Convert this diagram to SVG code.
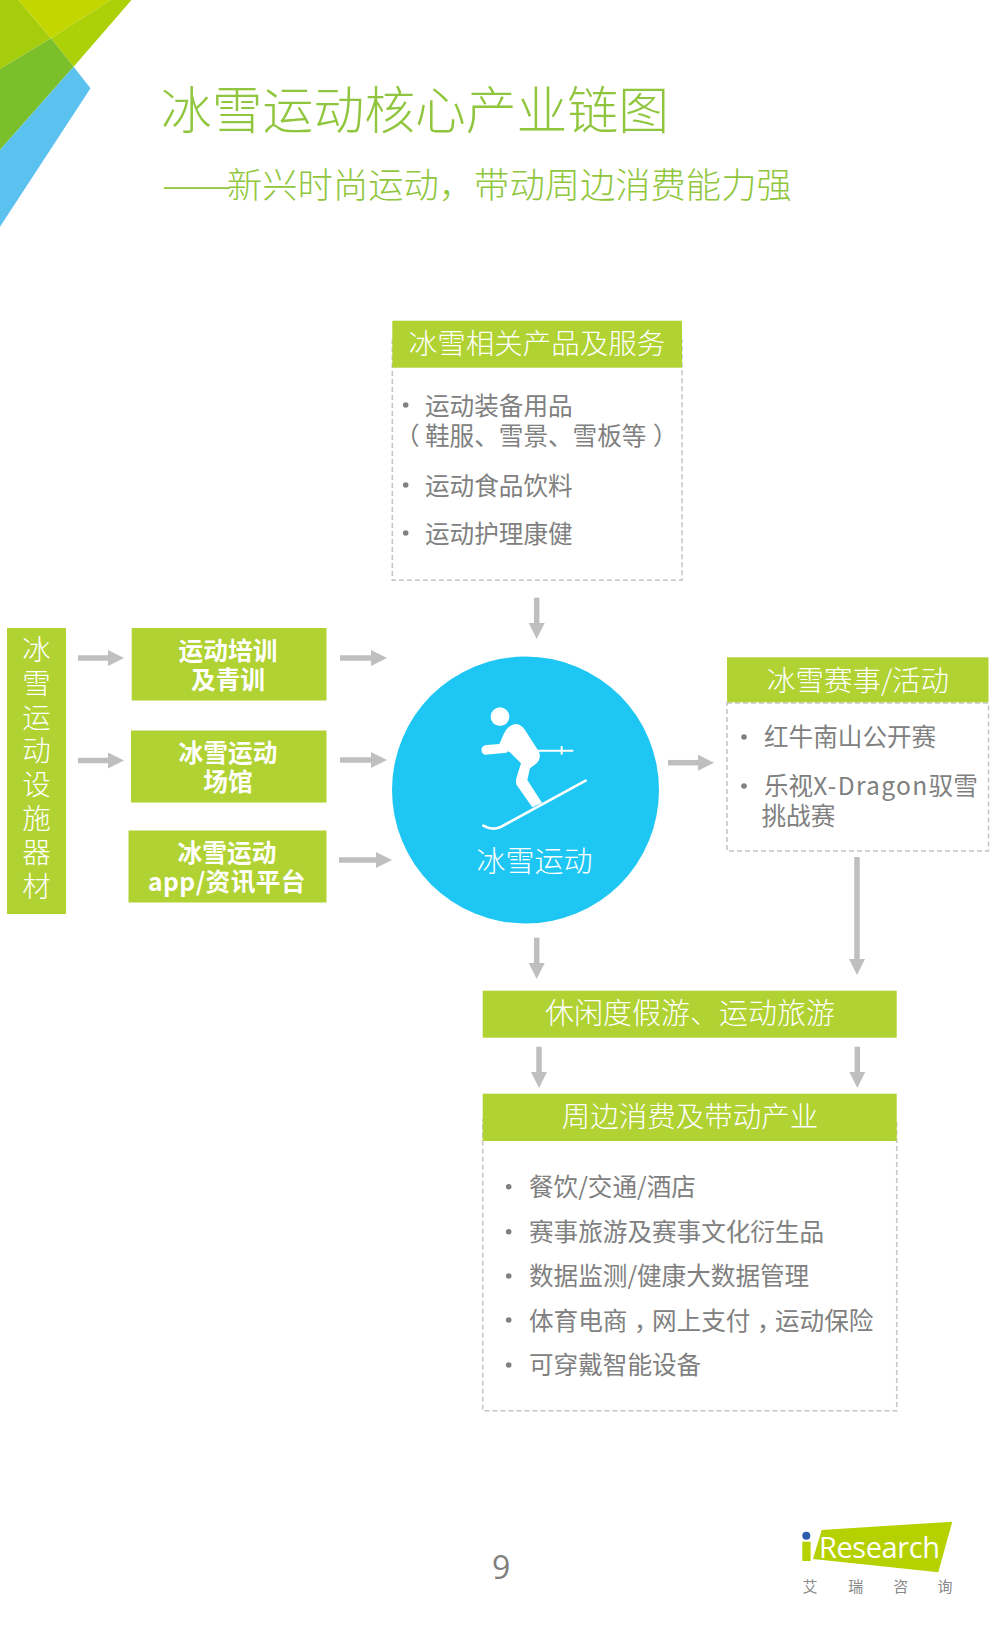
<svg xmlns="http://www.w3.org/2000/svg" width="1000" height="1640" viewBox="0 0 1000 1640">
<style>
text{font-family:"Noto Sans CJK SC","Noto Sans",sans-serif}
.hd{fill:#b0d232}
.dash{fill:#fff;stroke:#c4c4c4;stroke-width:1.5;stroke-dasharray:5 3}
.ht{fill:#fff;font-size:28.5px;font-weight:300;text-anchor:middle}
.bt{fill:#fff;font-size:24.7px;font-weight:700;text-anchor:middle}
.li{fill:#808080;font-size:24.6px;font-weight:400}
.bu{fill:#808080}
.conn{stroke:#bfbfbf;stroke-width:5.5;fill:none;marker-end:url(#arr)}
.title{fill:#8fc63d;font-weight:300}
.tc{font-family:"Noto Sans CJK TC",sans-serif}
</style>
<defs>
<marker id="arr" markerUnits="userSpaceOnUse" markerWidth="17" markerHeight="17" refX="0" refY="8" orient="auto"><path d="M0 0L16 8L0 16Z" fill="#bfbfbf"/></marker>
</defs>
<rect width="1000" height="1640" fill="#fff"/>
<g id="corner">
<path d="M0 0H18.4L51 38.3L0 69Z" fill="#a5cd0c"/>
<path d="M18.4 0H110.5L51 38.3Z" fill="#c3d600"/>
<path d="M110.5 0H131.5L73.6 66.7L51 38.3Z" fill="#acd108"/>
<path d="M51 38.3L73.6 66.7L0 150V69Z" fill="#7bbf2a"/>
<path d="M73.6 66.7L90.5 88.3L0 226.7V150Z" fill="#5bc2f0"/>
</g>
<g id="title">
<text class="title" x="161" y="129" font-size="50.8">冰雪运动核心产业链图</text>
<text class="title" x="162" y="198" font-size="35.3"><tspan font-size="42" dy="2" letter-spacing="1.5">——</tspan><tspan x="227" y="198">新兴时尚运动，带动周边消费能力强</tspan></text>
</g>
<g id="connectors">
<path class="conn" d="M536.7 597.7V623"/>
<path class="conn" d="M78 658H108"/>
<path class="conn" d="M78 760.5H108"/>
<path class="conn" d="M340 658H371"/>
<path class="conn" d="M340 760H371"/>
<path class="conn" d="M339 860H376"/>
<path class="conn" d="M668 762.7H698"/>
<path class="conn" d="M857 857V959"/>
<path class="conn" d="M536.7 937.7V963"/>
<path class="conn" d="M539 1046.7V1072"/>
<path class="conn" d="M857.3 1046.7V1072"/>
</g>
<g id="products">
<rect class="dash" x="392.3" y="340" width="289.7" height="240.3"/>
<rect class="hd" x="392.3" y="320.7" width="289.7" height="47"/>
<text class="ht" x="537" y="354">冰雪相关产品及服务</text>
<circle class="bu" cx="405.7" cy="405" r="2.8"/><text class="li" x="425" y="415">运动装备用品</text>
<text class="li" x="395" y="445">（<tspan x="425">鞋服、雪景、雪板等</tspan><tspan x="653">）</tspan></text>
<circle class="bu" cx="405.7" cy="485" r="2.8"/><text class="li" x="425" y="495">运动食品饮料</text>
<circle class="bu" cx="405.7" cy="533" r="2.8"/><text class="li" x="425" y="543">运动护理康健</text>
</g>
<g id="equipment">
<rect class="hd" x="7" y="628" width="59" height="286"/>
<text x="36.5" y="635" fill="#fff" font-size="28.5" font-weight="300" style="writing-mode:vertical-rl;letter-spacing:5.3px">冰雪运动设施器材</text>
</g>
<g id="training">
<rect class="hd" x="131.7" y="628" width="194.8" height="72.5"/>
<text class="bt" x="228" y="660">运动培训</text><text class="bt" x="228" y="689">及青训</text>
</g>
<g id="venue">
<rect class="hd" x="131" y="730.5" width="195.5" height="72"/>
<text class="bt" x="228" y="761.5">冰雪运动</text><text class="bt" x="228" y="791">场馆</text>
</g>
<g id="platform">
<rect class="hd" x="128.5" y="830.5" width="198" height="72"/>
<text class="bt" x="227" y="861.5">冰雪运动</text><text class="bt" x="227" y="891" letter-spacing=".4">app/资讯平台</text>
</g>
<g id="core">
<circle cx="525.5" cy="790" r="133.5" fill="#1ec6f4"/>
<g transform="translate(440 680) scale(.3333)" fill="#fff">
<circle cx="180" cy="110" r="28"/>
<path d="M205 209H400V215H205Z"/>
<path d="M362 198H368V224H362Z"/>
<path d="M190 165Q205 132 230 132Q245 135 255 150L297 215Q305 235 290 250L270 265L262 300L306 368L277 382L230 315Q225 305 232 285L243 250L205 212L200 218L135 224Q122 220 125 205Q130 195 140 195L178 192Z"/>
<path d="M130 437Q155 452 180 442L437 302" fill="none" stroke="#fff" stroke-width="8" stroke-linecap="round"/>
</g>
<text class="ht" x="534.5" y="872" style="font-size:29px">冰雪运动</text>
</g>
<g id="events">
<rect class="dash" x="727" y="703" width="261.5" height="148"/>
<rect class="hd" x="727" y="657.3" width="261.5" height="45"/>
<text class="ht" x="858" y="691">冰雪赛事/活动</text>
<circle class="bu" cx="744" cy="737" r="2.8"/><text class="li" x="764" y="746">红牛南山公开赛</text>
<circle class="bu" cx="744" cy="786" r="2.8"/><text class="li" x="764" y="795">乐视<tspan letter-spacing="1.3">X-Dragon</tspan>驭雪</text>
<text class="li" x="761.5" y="825">挑战赛</text>
</g>
<g id="tourism">
<rect class="hd" x="482.7" y="990.7" width="414" height="47"/>
<text class="ht" x="690" y="1023.5" style="font-size:29px">休闲度假游、运动旅游</text>
</g>
<g id="peripheral">
<rect class="dash" x="482.7" y="1120" width="414" height="290.7"/>
<rect class="hd" x="482.7" y="1093.7" width="414" height="47.3"/>
<text class="ht" x="690" y="1126.5" style="font-size:28.5px">周边消费及带动产业</text>
<circle class="bu" cx="508.7" cy="1186.7" r="2.8"/><text class="li" x="529" y="1196">餐饮/交通/酒店</text>
<circle class="bu" cx="508.7" cy="1231.7" r="2.8"/><text class="li" x="529" y="1241">赛事旅游及赛事文化衍生品</text>
<circle class="bu" cx="508.7" cy="1276" r="2.8"/><text class="li" x="529" y="1285">数据监测/健康大数据管理</text>
<circle class="bu" cx="508.7" cy="1320" r="2.8"/><text class="li" x="529" y="1330">体育电商<tspan class="tc" dy="8">，</tspan><tspan dy="-8">网上支付</tspan><tspan class="tc" dy="8">，</tspan><tspan dy="-8">运动保险</tspan></text>
<circle class="bu" cx="508.7" cy="1365" r="2.8"/><text class="li" x="529" y="1374">可穿戴智能设备</text>
</g>
<g id="page"><text x="492" y="1579" font-size="32" fill="#7f7f7f" style="font-family:'Open Sans','Noto Sans',sans-serif">9</text></g>
<g id="logo">
<path d="M821.7 1530L952.3 1521.7L938.3 1572.3L813 1559Z" fill="#b5d100"/>
<rect x="802.3" y="1541.7" width="8.3" height="19.3" fill="#b5d100"/>
<circle cx="806.3" cy="1535.7" r="4" fill="#2a5caa"/>
<text x="819" y="1558" font-size="29" fill="#fff" textLength="121" lengthAdjust="spacing" style="font-family:'Open Sans','Noto Sans',sans-serif">Research</text>
<g font-size="15" fill="#888" text-anchor="middle"><text x="810" y="1592">艾</text><text x="855.7" y="1592">瑞</text><text x="900.7" y="1592">咨</text><text x="945" y="1592">询</text></g>
</g>
</svg>
